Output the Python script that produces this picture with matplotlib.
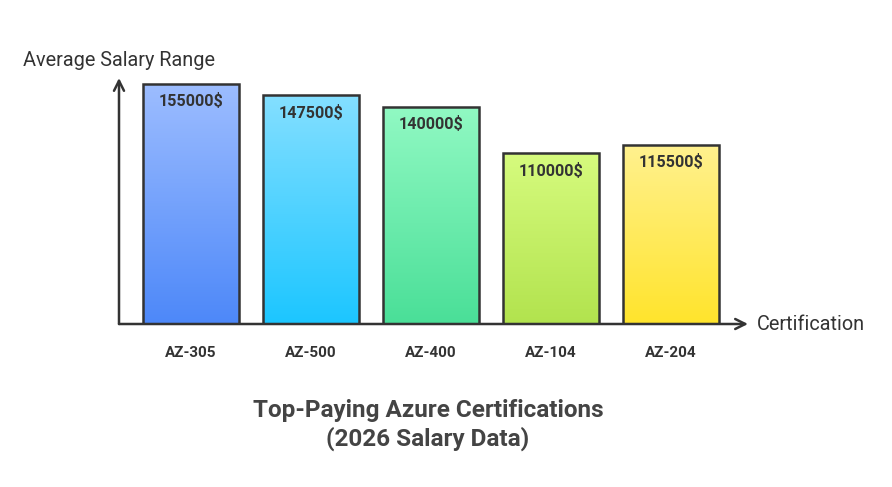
import numpy as np
import matplotlib
matplotlib.use("Agg")
import matplotlib.pyplot as plt
from matplotlib.colors import LinearSegmentedColormap

plt.rcParams["font.family"] = ["Roboto", "DejaVu Sans"]

certs = ["AZ-305", "AZ-500", "AZ-400", "AZ-104", "AZ-204"]
salaries = [155000, 147500, 140000, 110000, 115500]
value_labels = ["155000$", "147500$", "140000$", "110000$", "115500$"]
# (top colour, bottom colour) for each bar's vertical gradient
gradients = [
    ("#9dbdff", "#4d88f9"),
    ("#84dfff", "#1cc6ff"),
    ("#91f9c3", "#4adf98"),
    ("#d6fb7e", "#b2e34e"),
    ("#fff18f", "#ffe42c"),
]

INK = "#333333"
W, H = 892, 487

fig = plt.figure(figsize=(W / 100, H / 100), dpi=100)
fig.patch.set_facecolor("white")
# axes placed in pixel units: x from 119 to 748, y from 78 (arrow tip) to 324
ax = fig.add_axes([119 / W, (H - 324) / H, (748 - 119) / W, (324 - 78) / H])
ax.set_xlim(-0.6, 4.642)
ax.set_ylim(0, 158700)
ax.axis("off")

xs = np.arange(len(certs))
bars = ax.bar(xs, salaries, width=0.8, facecolor="none", edgecolor=INK,
              linewidth=1.8, zorder=3)
grad = np.linspace(0, 1, 256).reshape(-1, 1)
for b, (top, bot) in zip(bars, gradients):
    cmap = LinearSegmentedColormap.from_list("g", [top, bot])
    im = ax.imshow(grad, cmap=cmap, aspect="auto", zorder=2,
                   extent=[b.get_x(), b.get_x() + b.get_width(), 0, b.get_height()])
    im.set_clip_path(b)

for x, v, lab in zip(xs, salaries, value_labels):
    ax.annotate(lab, (x, v), xytext=(0, -12.5), textcoords="offset points",
                ha="center", va="center", fontsize=11.6, fontweight="bold",
                color=INK, zorder=4)

# axes with arrow heads
ax.annotate("", xy=(0, 1.0), xytext=(0, 0), xycoords="axes fraction",
            arrowprops=dict(arrowstyle="->", color=INK, lw=1.8,
                            mutation_scale=18, shrinkA=0, shrinkB=0))
ax.annotate("", xy=(1.0, 0), xytext=(0, 0), xycoords="axes fraction",
            arrowprops=dict(arrowstyle="->", color=INK, lw=1.8,
                            mutation_scale=18, shrinkA=0, shrinkB=0))

for x, c in zip(xs, certs):
    ax.annotate(c, (x, 0), xytext=(0, -21), textcoords="offset points",
                ha="center", va="center", fontsize=11, fontweight="bold",
                color=INK, annotation_clip=False)

fig.text(119 / W, 1 - 60 / H, "Average Salary Range", ha="center", va="center",
         fontsize=14.3, color=INK)
fig.text(757 / W, 1 - 324 / H, "Certification", ha="left", va="center",
         fontsize=14.3, color=INK)
fig.text(428 / W, 1 - 425 / H, "Top-Paying Azure Certifications\n(2026 Salary Data)",
         ha="center", va="center", fontsize=17.5, fontweight="bold", color="#444444",
         linespacing=1.2)

fig.savefig("out.png", dpi=100, facecolor="white")
